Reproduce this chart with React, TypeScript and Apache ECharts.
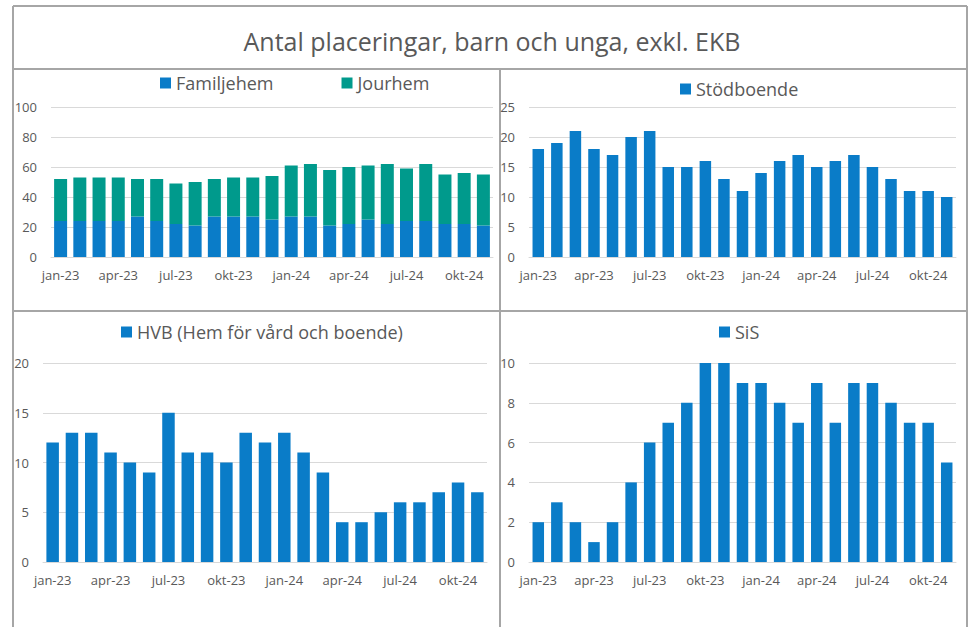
import React, { useEffect, useRef } from "react";
import * as echarts from "echarts";

const months = [
  "jan-23", "feb-23", "mar-23", "apr-23", "maj-23", "jun-23", "jul-23", "aug-23", "sep-23", "okt-23", "nov-23", "dec-23",
  "jan-24", "feb-24", "mar-24", "apr-24", "maj-24", "jun-24", "jul-24", "aug-24", "sep-24", "okt-24", "nov-24",
];
const familjehem = [24, 24, 24, 24, 27, 24, 22, 21, 27, 27, 27, 25, 27, 27, 21, 22, 25, 22, 24, 24, 22, 22, 21];
const jourhem = [28, 29, 29, 29, 25, 28, 27, 29, 25, 26, 26, 29, 34, 35, 37, 38, 36, 40, 35, 38, 33, 34, 34];
const stodboende = [18, 19, 21, 18, 17, 20, 21, 15, 15, 16, 13, 11, 14, 16, 17, 15, 16, 17, 15, 13, 11, 11, 10];
const hvb = [12, 13, 13, 11, 10, 9, 15, 11, 11, 10, 13, 12, 13, 11, 9, 4, 4, 5, 6, 6, 7, 8, 7];
const sis = [2, 3, 2, 1, 2, 4, 6, 7, 8, 10, 10, 9, 9, 8, 7, 9, 7, 9, 9, 8, 7, 7, 5];

const title = "Antal placeringar, barn och unga, exkl. EKB";
const BLUE = "#0A7CC8";
const TEAL = "#009A8C";
const GREY_TEXT = "#595959";
const GRID = "#D9D9D9";
const BORDER = "#A6A6A6";
const FONT = "'Open Sans', sans-serif";

export default function App() {
  const ref = useRef<HTMLDivElement>(null);
  useEffect(() => {
    if (!ref.current) return;
    const chart = echarts.init(ref.current, null, { renderer: "svg" });

    const grids = [
      { left: 51, top: 107, width: 442, height: 150 },
      { left: 529, top: 107, width: 427, height: 150 },
      { left: 43, top: 363, width: 444, height: 199 },
      { left: 529, top: 363, width: 427, height: 199 },
    ];
    const yDefs = [
      { max: 100, interval: 20 },
      { max: 25, interval: 5 },
      { max: 20, interval: 5 },
      { max: 10, interval: 2 },
    ];

    const xAxis = grids.map((_, i) => ({
      type: "category",
      gridIndex: i,
      data: months,
      axisTick: { show: false },
      axisLine: { lineStyle: { color: GRID, width: 1 } },
      axisLabel: { interval: 2, color: GREY_TEXT, fontSize: 13, fontFamily: FONT, margin: 11 },
    }));
    const yAxis = yDefs.map((d, i) => ({
      type: "value",
      gridIndex: i,
      min: 0,
      max: d.max,
      interval: d.interval,
      axisLine: { show: false },
      axisTick: { show: false },
      splitLine: { lineStyle: { color: GRID, width: 1 } },
      axisLabel: { color: GREY_TEXT, fontSize: 13, fontFamily: FONT, margin: 14 },
    }));

    const legendText = { color: GREY_TEXT, fontSize: 18, fontFamily: FONT, lineHeight: 20 };
    const legends = [
      { data: ["Familjehem", "Jourhem"], left: 155, top: 68, itemGap: 68 },
      { data: ["Stödboende"], left: 675, top: 74, itemGap: 10 },
      { data: ["HVB (Hem för vård och boende)"], left: 116, top: 317, itemGap: 10 },
      { data: ["SiS"], left: 714, top: 317, itemGap: 10 },
    ].map((l) => ({
      ...l,
      icon: "rect",
      itemWidth: 11,
      itemHeight: 11,
      textStyle: legendText,
      selectedMode: false,
    }));

    const bar = (name: string, data: number[], idx: number, color: string, width: number, stack?: string) => ({
      type: "bar",
      name,
      data,
      xAxisIndex: idx,
      yAxisIndex: idx,
      stack,
      barWidth: width,
      itemStyle: { color },
    });

    const borders = [
      [13, 6, 967, 6],
      [13, 6, 13, 627],
      [967, 6, 967, 627],
      [13, 69, 967, 69],
      [500, 69, 500, 627],
      [13, 311, 967, 311],
    ].map(([x1, y1, x2, y2]) => ({
      type: "line",
      shape: { x1, y1, x2, y2 },
      style: { stroke: BORDER, lineWidth: 2 },
      silent: true,
    }));

    chart.setOption({
      animation: false,
      backgroundColor: "#FFFFFF",
      grid: grids,
      xAxis,
      yAxis,
      legend: legends,
      series: [
        bar("Familjehem", familjehem, 0, BLUE, 13, "a"),
        bar("Jourhem", jourhem, 0, TEAL, 13, "a"),
        bar("Stödboende", stodboende, 1, BLUE, 11.5),
        bar("HVB (Hem för vård och boende)", hvb, 2, BLUE, 12.5),
        bar("SiS", sis, 3, BLUE, 11.5),
      ],
      graphic: [
        ...borders,
        {
          type: "text",
          x: 492,
          y: 41,
          style: {
            text: title,
            fill: GREY_TEXT,
            fontSize: 25,
            fontFamily: FONT,
            textAlign: "center",
            textVerticalAlign: "middle",
          },
        },
      ],
    });
    return () => chart.dispose();
  }, []);

  return (
    <div
      ref={ref}
      style={{ position: "fixed", left: 0, top: 0, width: 973, height: 627, background: "#fff" }}
    />
  );
}
